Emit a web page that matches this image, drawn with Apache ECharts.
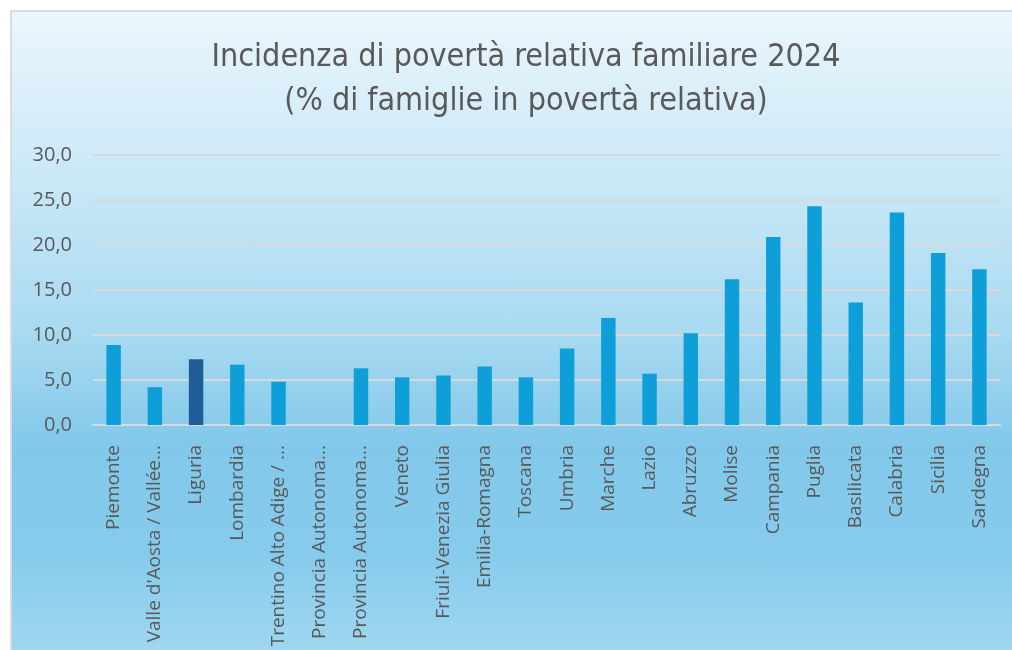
<!DOCTYPE html>
<html>
<head>
<meta charset="utf-8">
<script src="https://cdn.jsdelivr.net/npm/echarts@6/dist/echarts.min.js"></script>
<style>
  html, body { margin: 0; padding: 0; background: #ffffff; }
  #frame {
    position: absolute; left: 10px; top: 10px; width: 1002px; height: 640px;
    box-sizing: border-box;
    border-top: 2px solid #dcdcdc; border-left: 2px solid #dcdcdc;
    background: linear-gradient(to bottom, #ebf6fc 0%, #cfeaf8 22%, #a9daf1 50%, #82c8ea 68%, #86cbec 85%, #9fd6f0 100%);
  }
  #chart { position: absolute; left: 0; top: 0; width: 1012px; height: 650px; }
</style>
</head>
<body>
<div id="frame"></div>
<div id="chart"></div>
<script>
const categories = ["Piemonte", "Valle d'Aosta / Vallée d'Aoste", "Liguria", "Lombardia", "Trentino Alto Adige / Südtirol", "Provincia Autonoma Bolzano / Bozen", "Provincia Autonoma Trento", "Veneto", "Friuli-Venezia Giulia", "Emilia-Romagna", "Toscana", "Umbria", "Marche", "Lazio", "Abruzzo", "Molise", "Campania", "Puglia", "Basilicata", "Calabria", "Sicilia", "Sardegna"];
const tickLabels = ["Piemonte", "Valle d'Aosta / Vallée...", "Liguria", "Lombardia", "Trentino Alto Adige / ...", "Provincia Autonoma...", "Provincia Autonoma...", "Veneto", "Friuli-Venezia Giulia", "Emilia-Romagna", "Toscana", "Umbria", "Marche", "Lazio", "Abruzzo", "Molise", "Campania", "Puglia", "Basilicata", "Calabria", "Sicilia", "Sardegna"];
const values = [8.9, 4.2, 7.3, 6.7, 4.8, null, 6.3, 5.3, 5.5, 6.5, 5.3, 8.5, 11.9, 5.7, 10.2, 16.2, 20.9, 24.3, 13.6, 23.6, 19.1, 17.3];
const highlighted = "Liguria";
const yTicks = [0, 5, 10, 15, 20, 25, 30];

const chart = echarts.init(document.getElementById('chart'), null, { renderer: 'canvas' });
chart.setOption({
  backgroundColor: 'transparent',
  animation: false,
  title: {
    text: 'Incidenza di povertà relativa familiare 2024\n(% di famiglie in povertà relativa)',
    left: 521, top: 31,
    textAlign: 'center',
    textStyle: {
      fontFamily: '"DejaVu Sans Condensed", sans-serif',
      fontSize: 32, fontWeight: 'normal', color: '#595959', lineHeight: 44
    }
  },
  grid: { left: 93, right: 12, top: 155, bottom: 225, containLabel: false, outerBoundsMode: 'none' },
  xAxis: {
    type: 'category',
    data: categories,
    axisLine: { show: true, lineStyle: { color: '#d9d9d9', width: 2 } },
    axisTick: { show: false },
    axisLabel: {
      rotate: 90, interval: 0, margin: 20,
      fontFamily: '"Open Sans", sans-serif', fontSize: 19, color: '#595959',
      formatter: (v, i) => tickLabels[i]
    }
  },
  yAxis: {
    type: 'value', min: yTicks[0], max: yTicks[yTicks.length - 1], interval: 5,
    axisLine: { show: false }, axisTick: { show: false },
    splitLine: { lineStyle: { color: '#d9d9d9', width: 2 } },
    axisLabel: {
      margin: 21, fontFamily: '"Open Sans", sans-serif', fontSize: 20, color: '#595959',
      formatter: v => v.toFixed(1).replace('.', ',')
    }
  },
  series: [{
    type: 'bar',
    barWidth: '35%',
    data: values.map((v, i) => ({
      value: v,
      itemStyle: { color: categories[i] === highlighted ? '#1f5d99' : '#0f9fd8' }
    }))
  }]
});
</script>
</body>
</html>
